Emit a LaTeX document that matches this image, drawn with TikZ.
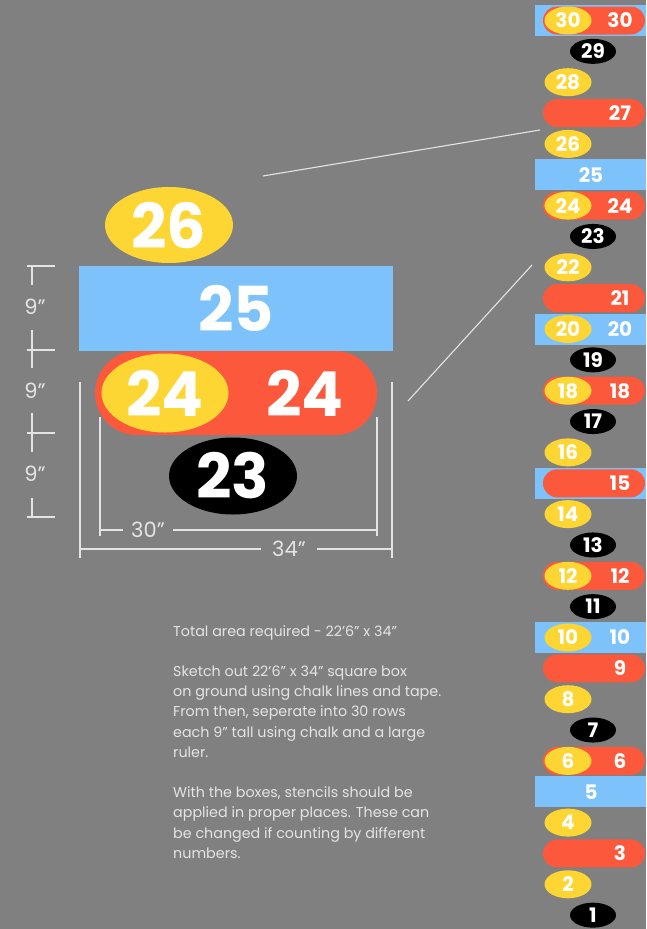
\documentclass[tikz,border=0pt]{standalone}
\usepackage{fontspec}
\setmainfont{Poppins}
\usetikzlibrary{shapes.geometric}

\definecolor{boardgrey}{RGB}{128,128,128}
\definecolor{dotyellow}{RGB}{253,214,51}
\definecolor{pillred}{RGB}{252,88,60}
\definecolor{barblue}{RGB}{125,194,250}
\definecolor{chalk}{RGB}{228,228,228}

\newcommand\bignum{\fontsize{62}{62}\selectfont\bfseries}
\newcommand\smallnum{\fontsize{20}{20}\selectfont\bfseries}

\tikzset{
	yelldot/.style={ellipse, fill=dotyellow, text=white, inner sep=0pt,
		minimum width=47pt, minimum height=28pt, font=\smallnum},
	blackdot/.style={ellipse, fill=black, text=white, inner sep=0pt,
		minimum width=46pt, minimum height=25pt, font=\smallnum},
	redpill/.style={rectangle, rounded corners=14pt, fill=pillred, inner sep=0pt,
		minimum width=102pt, minimum height=28pt},
	bluebar/.style={rectangle, fill=barblue, text=white, inner sep=0pt,
		minimum width=111pt, minimum height=31pt, font=\smallnum},
	rownum/.style={text=white, inner sep=0pt, font=\smallnum},
	dimline/.style={draw=chalk, line width=1.1pt},
	dimlabel/.style={text=chalk, inner ysep=0pt, font=\fontsize{21}{21}\selectfont},
	notes/.style={align=left, text=chalk, inner sep=0pt,
		font=\fontsize{14.3}{20.2}\selectfont}
}

\begin{document}
\begin{tikzpicture}[x=1pt,y=-1pt]

% board
\fill[boardgrey] (0,0) rectangle (646,929);
\useasboundingbox (0,0) rectangle (646,929);

% right column: the 30 rows
\foreach \n [evaluate=\n as \y using 20.5+(30-\n)*30.85] in {30,25,20,15,10,5}
	\node[bluebar] (bar\n) at (590.5,\y) {};
\foreach \n [evaluate=\n as \y using 20.5+(30-\n)*30.85] in {30,27,24,21,18,15,12,9,6,3}
	\node[redpill] (pill\n) at (594,\y) {};
\foreach \n [evaluate=\n as \y using 20.5+(30-\n)*30.85] in {30,28,26,24,22,20,18,16,14,12,10,8,6,4,2}
	\node[yelldot] (dot\n) at (568,\y) {\n};
\foreach \n [evaluate=\n as \y using 20.5+(30-\n)*30.85] in {29,23,19,17,13,11,7,1}
	\node[blackdot] (blk\n) at (593,\y) {\n};
\foreach \n [evaluate=\n as \y using 20.5+(30-\n)*30.85] in {30,27,24,21,20,18,15,12,10,9,6,3}
	\node[rownum] (num\n) at (620,\y) {\n};
\foreach \n [evaluate=\n as \y using 20.5+(30-\n)*30.85] in {25,5}
	\node[rownum] (num\n) at (591,\y) {\n};

% enlarged rows 26 to 23
\node[yelldot, minimum width=128pt, minimum height=76pt, font=\bignum] (big26) at (169,225) {26};
\node[bluebar, minimum width=314pt, minimum height=85pt, font=\bignum] (big25) at (236,308.5) {25};
\node[redpill, minimum width=282pt, minimum height=84pt, rounded corners=42pt] (big24) at (236,393) {};
\node[yelldot, minimum width=127pt, minimum height=79pt, font=\bignum] (big24dot) at (165,393) {24};
\node[rownum, font=\bignum] (big24num) at (305,393) {24};
\node[blackdot, minimum width=128pt, minimum height=77pt, font=\bignum] (big23) at (233,476) {23};

% zoom lines
\coordinate (zoomA) at (263,176);
\coordinate (zoomB) at (540,130);
\coordinate (zoomC) at (408,401);
\coordinate (zoomD) at (532,265);
\draw[dimline] (zoomA) -- (zoomB);
\draw[dimline] (zoomC) -- (zoomD);

% row heights
\draw[dimline] (27,266) -- (55,266);
\draw[dimline] (32,266) -- (32,285);
\node[dimlabel] (rowA) at (35,307) {9”};
\draw[dimline] (32,330) -- (32,368);
\draw[dimline] (27,350) -- (55,350);
\node[dimlabel] (rowB) at (35,391) {9”};
\draw[dimline] (32,413) -- (32,452);
\draw[dimline] (27,433) -- (55,433);
\node[dimlabel] (rowC) at (35,474) {9”};
\draw[dimline] (32,498) -- (32,517);
\draw[dimline] (27,517) -- (55,517);

% widths
\draw[dimline] (100,417) -- (100,536);
\draw[dimline] (377,417) -- (377,536);
\node[dimlabel, inner xsep=8pt] (inner) at (148,530) {30”};
\draw[dimline] (100,530) -- (inner) -- (377,530);
\draw[dimline] (80,382) -- (80,558);
\draw[dimline] (392,382) -- (392,558);
\node[dimlabel, inner xsep=11pt] (outer) at (289,549) {34”};
\draw[dimline] (80,549) -- (outer) -- (392,549);

% instructions
\node[notes, anchor=north west] (howto) at (173,625) {Total area required - 22’6” x 34”\\[20.2pt]
	Sketch out 22’6” x 34” square box\\
	on ground using chalk lines and tape.\\
	From then, seperate into 30 rows\\
	each 9” tall using chalk and a large\\
	ruler.\\[20.2pt]
	With the boxes, stencils should be\\
	applied in proper places. These can\\
	be changed if counting by different\\
	numbers.};

\end{tikzpicture}
\end{document}
